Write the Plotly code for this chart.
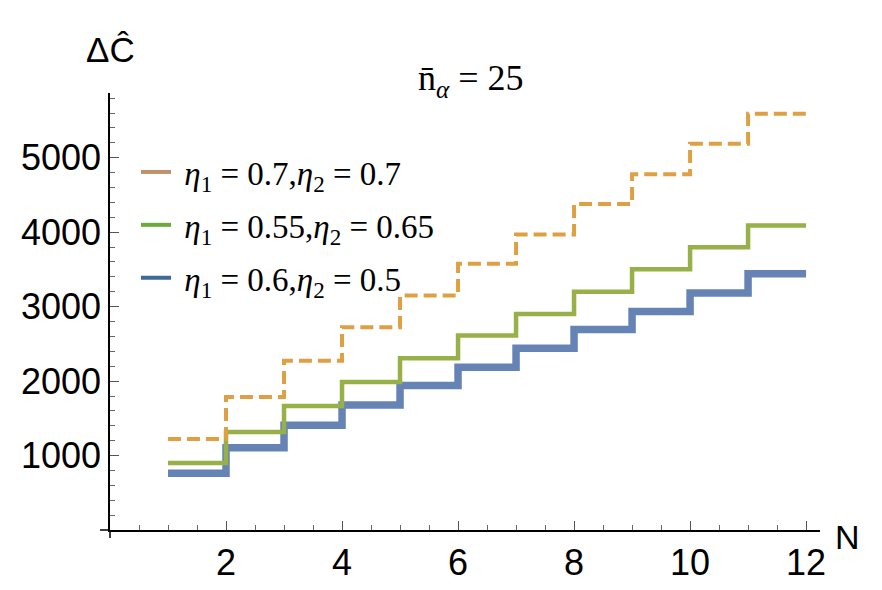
import plotly.graph_objects as go

# ---- data ----
N = [1, 2, 3, 4, 5, 6, 7, 8, 9, 10, 11, 12]
orange_vals = [1223, 1788, 2272, 2723, 3149, 3575, 3969, 4379, 4780, 5188, 5591]
green_vals = [900, 1317, 1667, 1989, 2308, 2612, 2903, 3199, 3503, 3798, 4090]
blue_vals = [761, 1106, 1406, 1680, 1940, 2185, 2441, 2692, 2934, 3185, 3441]

legend_labels = [
    "\u00a0<i>η</i><sub>1</sub> = 0.7,<i>η</i><sub>2</sub> = 0.7",
    "\u00a0<i>η</i><sub>1</sub> = 0.55,<i>η</i><sub>2</sub> = 0.65",
    "\u00a0<i>η</i><sub>1</sub> = 0.6,<i>η</i><sub>2</sub> = 0.5",
]
x_ticks = [2, 4, 6, 8, 10, 12]
y_ticks = [1000, 2000, 3000, 4000, 5000]

# ---- styles ----
line_colors = ["#dfa043", "#97b148", "#6683b5"]
legend_colors = ["#c0916a", "#6aaa3c", "#3d6a98"]
widths = [4, 4.5, 7.5]
dashes = ["13px,6px", "solid", "solid"]
SERIF = "Liberation Serif, DejaVu Serif, Times New Roman, serif"
SANS = "Liberation Sans, Arial, sans-serif"

fig = go.Figure()

series = [orange_vals, green_vals, blue_vals]
for i in [2, 1, 0]:
    vals = series[i]
    fig.add_trace(go.Scatter(
        x=N, y=vals + [vals[-1]], mode="lines", line_shape="hv",
        line=dict(color=line_colors[i], width=widths[i], dash=dashes[i]),
        showlegend=False, hoverinfo="skip",
    ))

for i, lab in enumerate(legend_labels):
    fig.add_trace(go.Scatter(
        x=[None], y=[None], mode="lines", name=lab,
        line=dict(color=legend_colors[i], width=4),
        legendgroup=f"g{i}",
    ))

W, H = 882, 590
L, R, T, B = 110, 62, 93, 60
pw, ph = W - L - R, H - T - B

def px(xp):
    return (xp - L) / pw

def py(yp):
    return (H - B - yp) / ph

fig.update_layout(
    width=W, height=H,
    margin=dict(l=L, r=R, t=T, b=B, autoexpand=False),
    paper_bgcolor="white", plot_bgcolor="white",
    font=dict(family=SANS, color="black"),
    showlegend=True,
    legend=dict(
        x=px(136), y=py(144), xanchor="left", yanchor="top",
        bgcolor="rgba(0,0,0,0)",
        font=dict(family=SERIF, size=33, color="black"),
        tracegroupgap=7, traceorder="grouped",
    ),
    xaxis=dict(
        range=[0, 12.24], showgrid=False, zeroline=False, automargin=False,
        showline=True, linecolor="black", linewidth=1.5,
        tickmode="array", tickvals=x_ticks, ticktext=[str(v) for v in x_ticks],
        ticks="inside", ticklen=9, tickwidth=1.3, tickcolor="#555",
        tickfont=dict(family=SANS, size=36, color="black"),
        ticklabelstandoff=0,
        minor=dict(dtick=0.5, tick0=0, ticks="inside", ticklen=5, tickwidth=1.2, tickcolor="#666"),
    ),
    yaxis=dict(
        range=[0, 5870], showgrid=False, zeroline=False, automargin=False,
        showline=True, linecolor="black", linewidth=1.5,
        tickmode="array", tickvals=y_ticks, ticktext=[str(v) for v in y_ticks],
        ticks="inside", ticklen=9, tickwidth=1.3, tickcolor="#555",
        tickfont=dict(family=SANS, size=36, color="black"),
        ticklabelstandoff=0,
        minor=dict(dtick=200, tick0=0, ticks="inside", ticklen=5, tickwidth=1.2, tickcolor="#666"),
    ),
    shapes=[
        dict(type="line", xref="paper", yref="paper", x0=px(100), x1=0, y0=0, y1=0,
             line=dict(color="black", width=1.5)),
        dict(type="line", xref="paper", yref="paper", x0=0, x1=0, y0=0, y1=py(538),
             line=dict(color="black", width=1.5)),
    ],
    annotations=[
        dict(text="ΔĈ", xref="paper", yref="paper", x=px(110), y=py(50),
             xanchor="center", yanchor="middle", showarrow=False,
             font=dict(family=SANS, size=35, color="black")),
        dict(text="N", xref="paper", yref="paper", x=px(847), y=py(537),
             xanchor="center", yanchor="middle", showarrow=False,
             font=dict(family=SANS, size=34, color="black")),
        dict(text="n\u0304<sub><i>α</i></sub> = 25", xref="paper", yref="paper",
             x=px(471), y=py(80), xanchor="center", yanchor="middle", showarrow=False,
             font=dict(family=SERIF, size=36, color="black")),
    ],
)

fig.write_html("out.html", config={"displayModeBar": False},
               post_script="document.body.style.margin='0';document.body.style.padding='0';")
